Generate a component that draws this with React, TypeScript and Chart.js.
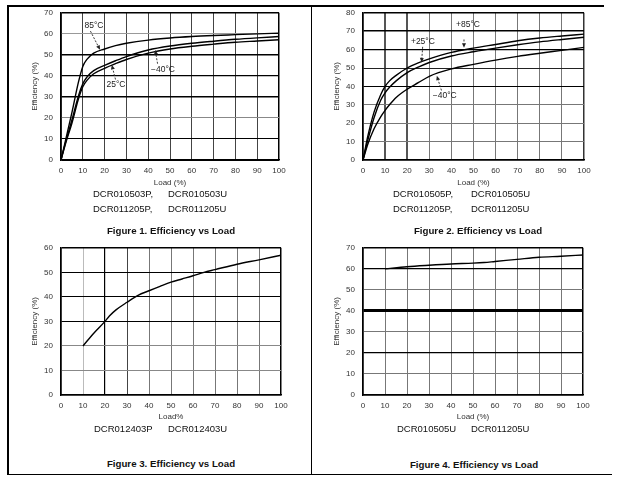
import React, { useEffect, useRef } from "react";
import { Chart, registerables } from "chart.js";
Chart.register(...registerables);

// ---------- Data ----------
// Figure 1
const fig1Load = [0, 2, 5, 8, 10, 12, 15, 20, 25, 30, 40, 50, 60, 70, 80, 90, 100];
const fig1Eff85 = [0, 9, 22.5, 37, 44.5, 48, 50.8, 52.8, 54.4, 55.5, 57, 58, 58.7, 59.2, 59.6, 60, 60.3];
const fig1EffM40 = [0, 8, 19, 30.5, 36.2, 39.6, 42.5, 45, 47.2, 49.2, 52.3, 54.2, 55.5, 56.5, 57.4, 58.1, 58.7];
const fig1Eff25 = [0, 7.5, 17.5, 29, 34.8, 38, 41, 43.6, 45.8, 47.8, 50.8, 52.8, 54.1, 55.1, 56, 56.6, 57.2];

// Figure 2
const fig2Load = [0, 1, 2, 5, 8, 10, 12, 15, 20, 25, 30, 40, 50, 60, 70, 80, 90, 100];
const fig2Eff85 = [0, 6, 12, 26, 35.5, 40, 43, 46, 50, 52.8, 55, 58.5, 60.8, 62.8, 64.8, 66.3, 67.4, 68.4];
const fig2Eff25 = [0, 5, 10, 23, 32.5, 36.5, 39.5, 43, 47.5, 50.5, 53, 56.5, 58.8, 60.8, 62.6, 64.2, 65.5, 66.7];
const fig2EffM40 = [0, 4, 8, 17, 23.5, 27, 30, 34, 38.5, 42, 45.5, 49.5, 52, 54.3, 56.3, 58, 59.6, 61.2];

// Figure 3
const fig3Load = [10, 15, 20, 22, 25, 30, 35, 40, 45, 50, 55, 60, 65, 70, 80, 90, 100];
const fig3Eff = [20, 25.3, 30, 32.2, 34.7, 37.8, 40.6, 42.5, 44.3, 46, 47.3, 48.6, 50, 51.1, 53.3, 55.1, 57];

// Figure 4
const fig4Load = [10, 20, 30, 40, 50, 55, 60, 70, 80, 90, 100];
const fig4Eff = [60, 61, 61.7, 62.3, 62.7, 63, 63.5, 64.5, 65.5, 66, 66.6];

const fig1Parts = [["DCR010503P,", "DCR010503U"], ["DCR011205P,", "DCR011205U"]];
const fig2Parts = [["DCR010505P,", "DCR010505U"], ["DCR011205P,", "DCR011205U"]];
const fig3Parts = [["DCR012403P", "DCR012403U"]];
const fig4Parts = [["DCR010505U", "DCR011205U"]];

const figTitles = [
  "Figure 1. Efficiency vs Load",
  "Figure 2. Efficiency vs Load",
  "Figure 3. Efficiency vs Load",
  "Figure 4. Efficiency vs Load",
];

const FONT = "'Liberation Sans', Arial, Helvetica, sans-serif";

type Note = { text: string; tx: number; ty: number; x0: number; y0: number; x1: number; y1: number };

const fig1Notes: Note[] = [
  { text: "85°C", tx: 15.1, ty: 63.9, x0: 13.5, y0: 61.3, x1: 17.9, y1: 52.4 },
  { text: "25°C", tx: 25.2, ty: 35.8, x0: 25, y0: 38.3, x1: 23.3, y1: 45.2 },
  { text: "−40°C", tx: 46.8, ty: 42.8, x0: 44.3, y0: 45.8, x1: 43.2, y1: 52.3 },
];
const fig2Notes: Note[] = [
  { text: "+85°C", tx: 47.5, ty: 73.6, x0: 45.7, y0: 65.5, x1: 45.7, y1: 61 },
  { text: "+25°C", tx: 27.1, ty: 64.4, x0: 27, y0: 61.5, x1: 26.5, y1: 53 },
  { text: "−40°C", tx: 37, ty: 35, x0: 35.5, y0: 37.8, x1: 33.4, y1: 45.8 },
];

const notesPlugin = {
  id: "notes",
  afterDatasetsDraw(chart: any, _args: any, opts: any) {
    const items: Note[] = (opts && opts.items) || [];
    const { ctx, scales } = chart;
    const xs = scales.x, ys = scales.y;
    ctx.save();
    ctx.font = `8.5px ${FONT}`;
    ctx.fillStyle = "#222";
    ctx.strokeStyle = "#222";
    ctx.textAlign = "center";
    ctx.textBaseline = "middle";
    for (const n of items) {
      const tx = xs.getPixelForValue(n.tx), ty = ys.getPixelForValue(n.ty);
      ctx.fillText(n.text, tx, ty);
      const ax0 = xs.getPixelForValue(n.x0), ay0 = ys.getPixelForValue(n.y0);
      const ax1 = xs.getPixelForValue(n.x1), ay1 = ys.getPixelForValue(n.y1);
      const ang = Math.atan2(ay1 - ay0, ax1 - ax0);
      const hl = 4.5, hw = 2;
      const bx = ax1 - hl * Math.cos(ang), by = ay1 - hl * Math.sin(ang);
      ctx.lineWidth = 0.9;
      ctx.setLineDash([2, 1.5]);
      ctx.beginPath();
      ctx.moveTo(ax0, ay0);
      ctx.lineTo(bx, by);
      ctx.stroke();
      ctx.setLineDash([]);
      ctx.beginPath();
      ctx.moveTo(ax1, ay1);
      ctx.lineTo(bx + hw * Math.sin(ang), by - hw * Math.cos(ang));
      ctx.lineTo(bx - hw * Math.sin(ang), by + hw * Math.cos(ang));
      ctx.closePath();
      ctx.fill();
    }
    ctx.restore();
  },
};

type GridMap = Record<number, [string, number]>;

interface Params {
  series: { x: number[]; y: number[] }[];
  yMax: number;
  xTitle: string;
  yAxisWidth: number;
  xAxisHeight: number;
  padTop: number;
  padRight: number;
  yTitlePad: number;
  xTitlePad: number;
  xGrid: GridMap;
  yGrid: GridMap;
  xDef: [string, number];
  yDef: [string, number];
  notes: Note[];
}

function pick(m: GridMap, v: number, d: [string, number]) {
  return m[Math.round(v)] || d;
}

function buildConfig(p: Params): any {
  const tickFont = { family: FONT, size: 8 };
  return {
    type: "line",
    data: {
      datasets: p.series.map((s) => ({
        data: s.x.map((x, i) => ({ x, y: s.y[i] })),
        borderColor: "#000",
        borderWidth: 1.4,
        pointRadius: 0,
        fill: false,
        cubicInterpolationMode: "monotone",
      })),
    },
    options: {
      animation: false,
      responsive: true,
      maintainAspectRatio: false,
      layout: { padding: { top: p.padTop, right: p.padRight, left: 0, bottom: 0 } },
      plugins: {
        legend: { display: false },
        tooltip: { enabled: false },
        notes: { items: p.notes },
      },
      scales: {
        x: {
          type: "linear",
          min: 0,
          max: 100,
          ticks: { stepSize: 10, padding: 6, color: "#333", font: tickFont, maxRotation: 0, autoSkip: false },
          grid: {
            drawTicks: false,
            color: (c: any) => pick(p.xGrid, c.tick ? c.tick.value : 0, p.xDef)[0],
            lineWidth: (c: any) => pick(p.xGrid, c.tick ? c.tick.value : 0, p.xDef)[1],
          },
          border: { display: true, color: "#000", width: 1.5 },
          title: {
            display: true,
            text: p.xTitle,
            color: "#333",
            font: tickFont,
            padding: { top: 0, bottom: p.xTitlePad },
          },
          afterFit: (s: any) => {
            s.height = p.xAxisHeight;
          },
        },
        y: {
          type: "linear",
          min: 0,
          max: p.yMax,
          ticks: { stepSize: 10, padding: 8, color: "#333", font: tickFont },
          grid: {
            drawTicks: false,
            color: (c: any) => pick(p.yGrid, c.tick ? c.tick.value : 0, p.yDef)[0],
            lineWidth: (c: any) => pick(p.yGrid, c.tick ? c.tick.value : 0, p.yDef)[1],
          },
          border: { display: true, color: "#000", width: 1.5 },
          title: {
            display: true,
            text: "Efficiency (%)",
            color: "#333",
            font: tickFont,
            padding: { top: p.yTitlePad, bottom: 0 },
          },
          afterFit: (s: any) => {
            s.width = p.yAxisWidth;
          },
        },
      },
    },
    plugins: [notesPlugin],
  };
}

function ChartBox(props: { left: number; top: number; width: number; height: number; params: Params }) {
  const ref = useRef<HTMLCanvasElement>(null);
  useEffect(() => {
    const chart = new Chart(ref.current as HTMLCanvasElement, buildConfig(props.params));
    return () => chart.destroy();
  }, []);
  return (
    <div style={{ position: "absolute", left: props.left, top: props.top, width: props.width, height: props.height }}>
      <canvas ref={ref} />
    </div>
  );
}

function Text(props: { x: number; y: number; text: string; bold?: boolean; size?: number; center?: boolean }) {
  return (
    <div
      style={{
        position: "absolute",
        left: props.x,
        top: props.y,
        transform: props.center ? "translate(-50%, -50%)" : "translateY(-50%)",
        whiteSpace: "nowrap",
        fontFamily: FONT,
        fontSize: props.size || 9.5,
        fontWeight: props.bold ? "bold" : "normal",
        color: "#111",
        lineHeight: "12px",
      }}
    >
      {props.text}
    </div>
  );
}

function Line(props: { x: number; y: number; w: number; h: number }) {
  return <div style={{ position: "absolute", left: props.x, top: props.y, width: props.w, height: props.h, background: "#000" }} />;
}

const blackEdge: [string, number] = ["#000", 1.5];

const p1: Params = {
  series: [
    { x: fig1Load, y: fig1Eff85 },
    { x: fig1Load, y: fig1EffM40 },
    { x: fig1Load, y: fig1Eff25 },
  ],
  yMax: 70,
  xTitle: "Load (%)",
  yAxisWidth: 61,
  xAxisHeight: 30,
  padTop: 12,
  padRight: 21,
  yTitlePad: 30,
  xTitlePad: 2,
  xGrid: { 100: blackEdge },
  xDef: ["#444", 1],
  yGrid: { 10: ["#000", 1], 20: ["#888", 1], 30: ["#000", 1.5], 40: ["#000", 1.2], 50: ["#000", 1.5], 60: ["#999", 1], 70: blackEdge },
  yDef: ["#000", 1],
  notes: fig1Notes,
};

const p2: Params = {
  series: [
    { x: fig2Load, y: fig2Eff85 },
    { x: fig2Load, y: fig2Eff25 },
    { x: fig2Load, y: fig2EffM40 },
  ],
  yMax: 80,
  xTitle: "Load (%)",
  yAxisWidth: 53,
  xAxisHeight: 30,
  padTop: 11,
  padRight: 26,
  yTitlePad: 22,
  xTitlePad: 2,
  xGrid: { 10: ["#555", 2], 20: ["#555", 2], 100: ["#333", 1.5] },
  xDef: ["#777", 1],
  yGrid: { 10: ["#777", 1], 20: ["#777", 1], 30: ["#777", 1], 40: ["#000", 1], 50: ["#222", 1], 60: ["#000", 1.3], 70: ["#000", 1.5], 80: blackEdge },
  yDef: ["#777", 1],
  notes: fig2Notes,
};

const p3: Params = {
  series: [{ x: fig3Load, y: fig3Eff }],
  yMax: 60,
  xTitle: "Load%",
  yAxisWidth: 61,
  xAxisHeight: 30,
  padTop: 11,
  padRight: 19,
  yTitlePad: 30,
  xTitlePad: 3,
  xGrid: { 10: ["#bbb", 1], 20: ["#000", 1.2], 30: ["#444", 1], 100: blackEdge },
  xDef: ["#777", 1],
  yGrid: { 10: ["#888", 1], 20: ["#888", 1], 30: ["#000", 1], 40: ["#000", 1], 50: ["#000", 1], 60: blackEdge },
  yDef: ["#888", 1],
  notes: [],
};

const p4: Params = {
  series: [{ x: fig4Load, y: fig4Eff }],
  yMax: 70,
  xTitle: "Load (%)",
  yAxisWidth: 53,
  xAxisHeight: 30,
  padTop: 11,
  padRight: 27,
  yTitlePad: 22,
  xTitlePad: 3,
  xGrid: { 100: blackEdge },
  xDef: ["#777", 1],
  yGrid: { 10: ["#777", 1], 20: ["#000", 1.3], 30: ["#777", 1], 40: ["#000", 3], 50: ["#777", 1], 60: ["#000", 1.2], 70: blackEdge },
  yDef: ["#777", 1],
  notes: [],
};

export default function App() {
  return (
    <div style={{ position: "absolute", left: 0, top: 0, width: 620, height: 477, background: "#fff", overflow: "hidden" }}>
      <Line x={7} y={5} w={597} h={1.5} />
      <Line x={7} y={5} w={1.5} h={470} />
      <Line x={310.5} y={5} w={1.5} h={470} />
      <Line x={7} y={473.5} w={605} h={1.5} />

      <ChartBox left={0} top={0} width={300} height={190} params={p1} />
      <ChartBox left={310} top={0} width={300} height={190} params={p2} />
      <ChartBox left={0} top={235} width={300} height={190} params={p3} />
      <ChartBox left={310} top={235} width={300} height={190} params={p4} />

      {fig1Parts.map((r, i) => (
        <React.Fragment key={"a" + i}>
          <Text x={93} y={194 + i * 15} text={r[0]} />
          <Text x={168} y={194 + i * 15} text={r[1]} />
        </React.Fragment>
      ))}
      {fig2Parts.map((r, i) => (
        <React.Fragment key={"b" + i}>
          <Text x={393} y={194 + i * 15} text={r[0]} />
          <Text x={471} y={194 + i * 15} text={r[1]} />
        </React.Fragment>
      ))}
      {fig3Parts.map((r, i) => (
        <React.Fragment key={"c" + i}>
          <Text x={94} y={429} text={r[0]} />
          <Text x={168} y={429} text={r[1]} />
        </React.Fragment>
      ))}
      {fig4Parts.map((r, i) => (
        <React.Fragment key={"d" + i}>
          <Text x={397} y={429} text={r[0]} />
          <Text x={471} y={429} text={r[1]} />
        </React.Fragment>
      ))}

      <Text x={171} y={231} text={figTitles[0]} bold center size={9.7} />
      <Text x={478} y={231} text={figTitles[1]} bold center size={9.7} />
      <Text x={171} y={464} text={figTitles[2]} bold center size={9.7} />
      <Text x={474} y={465} text={figTitles[3]} bold center size={9.7} />
    </div>
  );
}
